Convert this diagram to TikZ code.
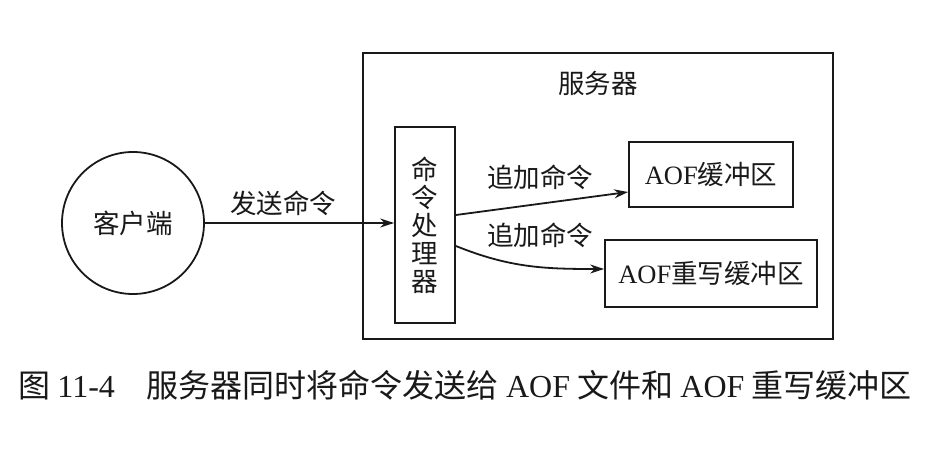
\documentclass[tikz,border=0pt]{standalone}
\usepackage{fontspec}
\usepackage{tikz}
\usepackage{xcolor}
\usetikzlibrary{arrows.meta, positioning}
\setmainfont{Liberation Serif}
\newfontfamily\cjk{Noto Sans CJK SC}
\definecolor{inkblack}{RGB}{25,25,25}

\begin{document}
\begin{tikzpicture}[
  x=1pt, y=1pt,
  font=\fontsize{26.5}{28}\selectfont\cjk,
  line width=1.8pt, draw=inkblack, text=inkblack,
  box/.style={rectangle, draw=inkblack, inner sep=0pt},
  flow/.style={-{Stealth[length=14pt, width=9pt]}, draw=inkblack},
  flow label/.style={font=\fontsize{26.5}{28}\selectfont\cjk, inner sep=1pt}
]
\useasboundingbox (0,0) rectangle (950,456);
\node[circle, draw=inkblack, minimum size=142pt, inner sep=0pt] (client) at (133,233) {客户端};
\node[box, minimum width=470pt, minimum height=286pt] (server) at (598,260) {};
\node (serverlabel) at (598,373) {服务器};
\node[box, minimum width=60pt, minimum height=196pt, align=center,
  font=\fontsize{26.5}{28}\selectfont\cjk] (proc) at (425,231) {命\\令\\处\\理\\器};
\node[box, minimum width=164pt, minimum height=65pt] (aofbuf) at (711,281.5)
  {{\rmfamily AOF}缓冲区};
\node[box, minimum width=212pt, minimum height=67pt] (aofrw) at (711,182.5)
  {{\rmfamily AOF}重写缓冲区};
\draw[flow] (client.east) -- (client.east -| proc.west);
\node[flow label] (sendlabel) at (283,253) {发送命令};
\draw[flow] ([yshift=10pt]proc.east) -- ([yshift=-17.5pt]aofbuf.west);
\node[flow label] (appendone) at (540,279) {追加命令};
\draw[flow] ([yshift=-21pt]proc.east) to[out=-22, in=180] ([yshift=4.5pt]aofrw.west);
\node[flow label] (appendtwo) at (540,221) {追加命令};
% caption
\node[font=\fontsize{32}{34}\selectfont\cjk] (caption) at (465,71)
  {图 {\rmfamily 11-4}\quad 服务器同时将命令发送给 {\rmfamily AOF} 文件和 {\rmfamily AOF} 重写缓冲区};
\end{tikzpicture}
\end{document}
